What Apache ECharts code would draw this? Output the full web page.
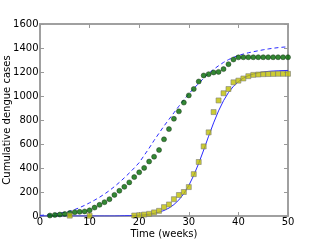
<!DOCTYPE html>
<html>
<head>
<meta charset="utf-8">
<script src="https://cdn.jsdelivr.net/npm/echarts@6/dist/echarts.min.js"></script>
<style>
html,body{margin:0;padding:0;background:#fff;}
#c{width:320px;height:240px;}
</style>
</head>
<body>
<div id="c"></div>
<script>
var weeks = [0,1,2,3,4,5,6,7,8,9,10,11,12,13,14,15,16,17,18,19,20,21,22,23,24,25,26,27,28,29,30,31,32,33,34,35,36,37,38,39,40,41,42,43,44,45,46,47,48,49,50];
var fitSolid = [0,0,0,0,0,0,0,0,0,0,0,0,0,0,0,0,1,2,3,5,7,10,15,22,32,46,66,95,134,186,254,339,439,550,665,776,876,961,1029,1081,1120,1149,1169,1183,1193,1200,1205,1208,1210,1212,1213];
var fitDashed = [5,8,12,17,23,31,41,54,70,89,110,132,156,183,212,245,280,318,358,400,445,505,565,630,690,750,805,860,915,968,1018,1063,1105,1148,1188,1222,1252,1280,1303,1322,1337,1350,1360,1369,1377,1385,1392,1398,1403,1407,1410];
var greenWeeks = [2,3,4,5,6,7,8,9,10,11,12,13,14,15,16,17,18,19,20,21,22,23,24,25,26,27,28,29,30,31,32,33,34,35,36,37,38,39,40,41,42,43,44,45,46,47,48,49,50];
var greenCases = [4,9,12,17,24,32,35,38,47,70,93,115,140,176,210,243,280,324,364,401,454,494,550,639,724,810,872,945,1005,1058,1121,1171,1182,1196,1201,1224,1265,1304,1322,1323,1323,1323,1323,1323,1323,1323,1323,1323,1323];
var yellowWeeks = [6,10,19,20,21,22,23,24,25,26,27,28,29,30,31,32,33,34,35,36,37,38,39,40,41,42,43,44,45,46,47,48,49,50];
var yellowCases = [3,2,4,7,12,18,30,43,74,96,140,175,200,241,349,450,580,697,866,963,1023,1058,1114,1128,1146,1165,1176,1179,1182,1183,1184,1185,1185,1185];
var xTickLabels = [0,10,20,30,40,50];
var yTickLabels = [0,200,400,600,800,1000,1200,1400,1600];
var xTicks = {min:0, max:50, interval:10};
var yTicks = {min:0, max:1600, interval:200};
var xTitle = 'Time (weeks)';
var yTitle = 'Cumulative dengue cases';

function pairs(xs, ys){ return xs.map(function(x,i){ return [x, ys[i]]; }); }

var spine = {show:true, onZero:false, lineStyle:{color:'#a0a0a0', width:2}};
var tick = {show:true, inside:true, length:4, lineStyle:{color:'#999', width:1}};
var fontCss = '10px "DejaVu Sans"';

var chart = echarts.init(document.getElementById('c'), null, {renderer:'canvas'});
chart.setOption({
  animation:false,
  backgroundColor:'#fff',
  grid:{left:40, top:24, right:32, bottom:24, containLabel:false,
        show:true, borderColor:'#a0a0a0', borderWidth:1.5, backgroundColor:'transparent'},
  xAxis:[
    {type:'value', min:xTicks.min, max:xTicks.max, interval:xTicks.interval, position:'bottom',
     axisLine:spine, axisTick:tick, splitLine:{show:false}, axisLabel:{show:false}},
    {type:'value', min:xTicks.min, max:xTicks.max, interval:xTicks.interval, position:'top',
     axisLine:spine, axisTick:tick, splitLine:{show:false}, axisLabel:{show:false}}
  ],
  yAxis:[
    {type:'value', min:yTicks.min, max:yTicks.max, interval:yTicks.interval, position:'left',
     axisLine:spine, axisTick:tick, splitLine:{show:false}, axisLabel:{show:false}},
    {type:'value', min:yTicks.min, max:yTicks.max, interval:yTicks.interval, position:'right',
     axisLine:spine, axisTick:tick, splitLine:{show:false}, axisLabel:{show:false}}
  ],
  series:[
    {type:'line', data:pairs(weeks, fitDashed), showSymbol:false, smooth:false, z:2,
     lineStyle:{color:'#2a2aff', width:1, type:[4,3]}},
    {type:'line', data:pairs(weeks, fitSolid), showSymbol:false, smooth:false, z:2,
     lineStyle:{color:'#2a2aff', width:1}},
    {type:'scatter', data:pairs(greenWeeks, greenCases), symbol:'circle', symbolSize:5, z:3,
     itemStyle:{color:'#006a00', borderColor:'#1a301a', borderWidth:0.6}},
    {type:'scatter', data:pairs(yellowWeeks, yellowCases), symbol:'rect', symbolSize:5, z:4,
     itemStyle:{color:'#bfbf00', borderColor:'#777', borderWidth:0.7}}
  ]
});

function txt(s, x, y, h, v, rot){
  return {type:'text', x:x, y:y, rotation:rot || 0, z:10, silent:true,
    style:{text:s, fill:'#000', font:fontCss, align:h, verticalAlign:v, textAlign:h, textVerticalAlign:v}};
}
var els = [];
xTickLabels.forEach(function(v){
  var p = chart.convertToPixel({xAxisIndex:0, yAxisIndex:0}, [v, yTicks.min]);
  els.push(txt(String(v), p[0], p[1] + 6.5, 'center', 'middle'));
});
yTickLabels.forEach(function(v){
  var p = chart.convertToPixel({xAxisIndex:0, yAxisIndex:0}, [xTicks.min, v]);
  els.push(txt(String(v), p[0] - 1.5, p[1], 'right', 'middle'));
});
var c0 = chart.convertToPixel({xAxisIndex:0, yAxisIndex:0}, [(xTicks.min + xTicks.max) / 2, (yTicks.min + yTicks.max) / 2]);
els.push(txt(xTitle, c0[0], 234, 'center', 'middle'));
els.push(txt(yTitle, 7, c0[1], 'center', 'middle', Math.PI / 2));
chart.setOption({graphic:{elements:els}});
</script>
</body>
</html>
